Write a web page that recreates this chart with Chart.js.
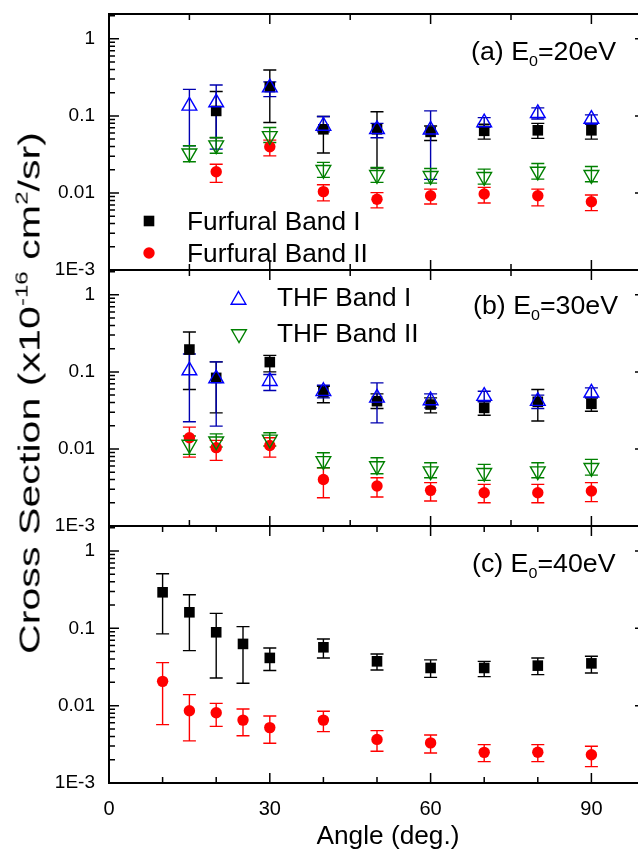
<!DOCTYPE html>
<html>
<head>
<meta charset="utf-8">
<script src="https://cdn.jsdelivr.net/npm/chart.js@4.4.1/dist/chart.umd.min.js"></script>
<style>
html,body{margin:0;padding:0;background:#fff;overflow:hidden;}
#wrap{position:relative;width:638px;height:852px;overflow:hidden;background:#fff;}
#wrap canvas{position:absolute;left:0;top:0;}
.txt{position:absolute;font-family:"Liberation Sans",Arial,Helvetica,sans-serif;color:#000;white-space:nowrap;line-height:1;}
.ann{font-size:25px;transform-origin:0 50%;transform:scaleX(1.07);}
.ann sub{font-size:15px;vertical-align:-6px;line-height:0;}
#ytitle{font-size:29px;left:30px;top:393px;transform:translate(-50%,-50%) rotate(-90deg) scaleX(1.42);}
#ytitle sup{font-size:17px;vertical-align:12px;line-height:0;}
#xtitle{font-size:25px;left:388px;top:823px;transform:translateX(-50%) scaleX(1.05);}
</style>
</head>
<body>
<div id="wrap">
<canvas id="cA" width="660" height="872" style="top:-20px"></canvas>
<canvas id="cB" width="660" height="852"></canvas>
<canvas id="cC" width="660" height="852"></canvas>
<div class="txt ann" style="left:471px;top:39px">(a) E<sub>0</sub>=20eV</div>
<div class="txt ann" style="left:473px;top:293px">(b) E<sub>0</sub>=30eV</div>
<div class="txt ann" style="left:472px;top:551px">(c) E<sub>0</sub>=40eV</div>
<div class="txt" id="ytitle">Cross Section (x10<sup>-16</sup> cm<sup>2</sup>/sr)</div>
<div class="txt" id="xtitle">Angle (deg.)</div>
</div>
<script>
// ---------- data ----------
const anglesF_A = [20,30,40,50,60,70,80,90];
const furfI_A    = [0.116,0.237,0.067,0.067,0.062,0.064,0.065,0.065];
const furfI_A_hi = [0.207,0.394,0.098,0.113,0.074,0.078,0.080,0.080];
const furfI_A_lo = [0.052,0.082,0.033,0.021,0.048,0.050,0.051,0.050];
const furfII_A    = [0.0188,0.0397,0.0104,0.0083,0.0092,0.0097,0.0092,0.0077];
const furfII_A_hi = [0.0236,0.0484,0.0128,0.0101,0.0112,0.0118,0.0112,0.0094];
const furfII_A_lo = [0.0137,0.0303,0.0079,0.0064,0.0072,0.0074,0.0068,0.0059];

const anglesT = [15,20,30,40,50,60,70,80,90];
const thfI_A    = [0.135,0.149,0.233,0.074,0.067,0.066,0.082,0.108,0.091];
const thfI_A_hi = [0.221,0.252,0.276,0.098,0.080,0.116,0.095,0.127,0.103];
const thfI_A_lo = [0.041,0.037,0.178,0.062,0.052,0.015,0.071,0.091,0.078];
const thfII_A    = [0.0328,0.0417,0.055,0.0200,0.0172,0.0167,0.0162,0.019,0.0172];
const thfII_A_hi = [0.0409,0.0524,0.0706,0.0249,0.0214,0.0208,0.0204,0.0241,0.022];
const thfII_A_lo = [0.0254,0.0328,0.0451,0.0159,0.0137,0.0134,0.013,0.0151,0.014];

const anglesF_B = [15,20,30,40,50,60,70,80,90];
const furfI_B    = [0.195,0.0836,0.134,0.0546,0.0417,0.0377,0.0341,0.0409,0.0385];
const furfI_B_hi = [0.33,0.135,0.164,0.0652,0.0519,0.046,0.0417,0.059,0.046];
const furfI_B_lo = [0.059,0.0294,0.1,0.0397,0.0335,0.0294,0.0274,0.023,0.0309];
const furfII_B    = [0.014,0.0104,0.0111,0.00402,0.0033,0.0029,0.0027,0.0027,0.00284];
const furfII_B_hi = [0.0192,0.0129,0.014,0.0057,0.00423,0.00365,0.00347,0.00347,0.00365];
const furfII_B_lo = [0.00783,0.0071,0.00783,0.00233,0.00238,0.00211,0.002,0.002,0.00207];
const thfI_B    = [0.104,0.082,0.0757,0.0561,0.046,0.0425,0.0484,0.0417,0.0535];
const thfI_B_hi = [0.171,0.135,0.0923,0.0672,0.072,0.0519,0.0561,0.0499,0.0621];
const thfI_B_lo = [0.0225,0.0198,0.0573,0.046,0.0218,0.0341,0.0409,0.0335,0.046];
const thfII_B    = [0.0114,0.0126,0.0133,0.0070,0.0060,0.00516,0.00491,0.00516,0.0057];
const thfII_B_hi = [0.0147,0.0157,0.0162,0.00891,0.00769,0.00662,0.0063,0.00662,0.00732];
const thfII_B_lo = [0.0085,0.0106,0.0109,0.0057,0.00477,0.00423,0.00391,0.00423,0.00458];

const anglesC = [10,15,20,25,30,40,50,60,70,80,90];
const furfI_C    = [0.292,0.161,0.0888,0.0628,0.0414,0.0568,0.0374,0.0307,0.0307,0.0329,0.0352];
const furfI_C_hi = [0.506,0.271,0.156,0.105,0.0557,0.0728,0.0466,0.039,0.0374,0.0413,0.0435];
const furfI_C_lo = [0.0846,0.0515,0.0228,0.0195,0.0284,0.0413,0.0289,0.0232,0.0237,0.0252,0.0264];
const furfII_C    = [0.0206,0.0086,0.0081,0.0065,0.0052,0.0065,0.00366,0.0033,0.00249,0.0025,0.00232];
const furfII_C_hi = [0.036,0.0139,0.0107,0.00906,0.00735,0.00845,0.00475,0.00418,0.00313,0.00313,0.00298];
const furfII_C_lo = [0.00568,0.0035,0.0054,0.00409,0.00326,0.00461,0.00257,0.00244,0.00189,0.00189,0.00163];

const seriesNames = ['Furfural Band I','Furfural Band II','THF Band I','THF Band II'];
const xTickValues = [0,30,60,90];
const xTickLabels = ['0','30','60','90'];
const xMinorAB = [15,45,75];
const xMinorC = [10,20,40,50,70,80];
const yTickValues = [0.001,0.01,0.1,1];
const yTickLabels = ['1E-3','0.01','0.1','1'];

// ---------- styles ----------
const FONT = '"Liberation Sans", Arial, Helvetica, sans-serif';
const STY = [
  {pointStyle:'rect', radius:7.5, fill:'#000000', stroke:'#000000', bw:0, rot:0, bar:'#000000', order:3},
  {pointStyle:'circle', radius:5.7, fill:'#ff0000', stroke:'#ff0000', bw:0, rot:0, bar:'#ff0000', order:2},
  {pointStyle:'triangle', radius:8.5, fill:'rgba(0,0,0,0)', stroke:'#0000ff', bw:1.4, rot:0, bar:'#0000b0', order:1},
  {pointStyle:'triangle', radius:8.5, fill:'rgba(0,0,0,0)', stroke:'#008000', bw:1.4, rot:180, bar:'#008000', order:0}
];

function mk(k, xs, ys, hi, lo){
  const s = STY[k];
  return {
    label: seriesNames[k],
    data: xs.map((x,i)=>({x:x, y:ys[i]})),
    errHi: hi, errLo: lo, errColor: s.bar,
    pointStyle: s.pointStyle, pointRadius: s.radius, pointHoverRadius: s.radius,
    pointRotation: s.rot, backgroundColor: s.fill, borderColor: s.stroke,
    borderWidth: s.bw, showLine:false, order: s.order, styleIndex:k
  };
}

// ---------- plugins ----------
const errorBars = {
  id:'errorBars',
  beforeDatasetsDraw(chart){
    const {ctx, scales:{x,y}} = chart;
    ctx.save();
    ctx.lineWidth = 1.4;
    const cap = 6.5;
    chart.data.datasets.slice().sort((a,b)=>b.order-a.order).forEach(ds=>{
      ctx.strokeStyle = ds.errColor;
      ds.data.forEach((p,i)=>{
        const px = x.getPixelForValue(p.x);
        const yh = y.getPixelForValue(ds.errHi[i]);
        const yl = y.getPixelForValue(ds.errLo[i]);
        ctx.beginPath();
        ctx.moveTo(px, yh); ctx.lineTo(px, yl);
        ctx.moveTo(px-cap, yh); ctx.lineTo(px+cap, yh);
        ctx.moveTo(px-cap, yl); ctx.lineTo(px+cap, yl);
        ctx.stroke();
      });
    });
    ctx.restore();
  }
};

const frame = {
  id:'frame',
  afterDraw(chart, args, opts){
    const {ctx, chartArea:a, scales:{x,y}} = chart;
    ctx.save();
    ctx.strokeStyle = '#000';
    ctx.lineWidth = 1.5;
    const MAJ = 10, MIN = 6;
    ctx.beginPath();
    for (let e = -3; e <= 0; e++){
      for (let m = 1; m <= 9; m++){
        const v = m*Math.pow(10,e);
        if (v < y.min*0.999 || v > y.max) continue;
        const py = y.getPixelForValue(v);
        const L = (m===1)?MAJ:MIN;
        ctx.moveTo(a.left, py); ctx.lineTo(a.left+L, py);
        ctx.moveTo(a.right, py); ctx.lineTo(a.right-L, py);
      }
    }
    const drawX = (vals, L)=>{
      vals.forEach(v=>{
        const px = x.getPixelForValue(v);
        ctx.moveTo(px, a.top); ctx.lineTo(px, a.top+L);
        ctx.moveTo(px, a.bottom); ctx.lineTo(px, a.bottom-L);
      });
    };
    drawX(xTickValues, MAJ);
    drawX(opts.minorX || [], MIN);
    ctx.stroke();
    ctx.lineWidth = 2;
    ctx.strokeRect(a.left, a.top, a.right-a.left, a.bottom-a.top);
    ctx.restore();
  }
};

const innerLegend = {
  id:'innerLegend',
  afterDatasetsDraw(chart, args, opts){
    const items = opts.items || [];
    const ctx = chart.ctx;
    const dy = opts.dy || 0;
    items.forEach(it=>{
      const ds = chart.data.datasets[it.ds];
      const s = STY[ds.styleIndex];
      ctx.save();
      ctx.fillStyle = s.fill; ctx.strokeStyle = s.stroke; ctx.lineWidth = s.bw;
      Chart.helpers.drawPoint(ctx, {pointStyle:s.pointStyle, radius:s.radius, rotation:s.rot, borderWidth:s.bw}, it.mx, it.my + dy);
      ctx.restore();
      ctx.save();
      ctx.fillStyle = '#000';
      ctx.font = opts.size + 'px ' + FONT;
      ctx.textBaseline = 'alphabetic';
      ctx.translate(it.tx, it.ty + dy + 0.358*opts.size);
      ctx.scale(opts.sx, 1);
      ctx.fillText(ds.label, 0, 0);
      ctx.restore();
    });
  }
};

// canvasTop: page offset of the canvas (so chart areas line up on the page)
function makePanel(id, canvasTop, canvasH, datasets, top, bottom, showX, minorX, legendItems){
  const t = top - canvasTop, b = bottom - canvasTop;
  return new Chart(document.getElementById(id), {
    type:'scatter',
    data:{datasets},
    plugins:[errorBars, frame, innerLegend],
    options:{
      responsive:false, animation:false, devicePixelRatio:1,
      layout:{padding:{top:t, left:0, right:15, bottom: showX ? 0 : canvasH-b}},
      plugins:{
        legend:{display:false}, tooltip:{enabled:false},
        frame:{minorX:minorX},
        innerLegend:{items:legendItems, size:25, sx:1.05, dy:-canvasTop}
      },
      scales:{
        x:{
          type:'linear', min:0, max:100, display:showX,
          afterFit:(s)=>{ s.height = showX ? canvasH-b : 0; },
          afterBuildTicks:(s)=>{ s.ticks = xTickValues.map(v=>({value:v})); },
          ticks:{callback:(v,i)=>xTickLabels[i], color:'#000', font:{family:FONT, size:20}, padding:14, maxRotation:0, autoSkip:false},
          grid:{display:false, drawTicks:false}, border:{display:false}
        },
        y:{
          type:'logarithmic', min:0.001, max:2.1,
          afterFit:(s)=>{ s.width = 109; },
          afterBuildTicks:(s)=>{ s.ticks = yTickValues.map(v=>({value:v})); },
          ticks:{callback:(v,i)=>yTickLabels[i], color:'#000', font:{family:FONT, size:19}, padding:14, autoSkip:false},
          grid:{display:false, drawTicks:false}, border:{display:false}
        }
      }
    }
  });
}

makePanel('cA', -20, 872, [
  mk(0, anglesF_A, furfI_A, furfI_A_hi, furfI_A_lo),
  mk(1, anglesF_A, furfII_A, furfII_A_hi, furfII_A_lo),
  mk(2, anglesT, thfI_A, thfI_A_hi, thfI_A_lo),
  mk(3, anglesT, thfII_A, thfII_A_hi, thfII_A_lo)
], 14, 270, false, xMinorAB, [
  {ds:0, mx:149, my:221, ty:221.5, tx:187},
  {ds:1, mx:149, my:253, ty:253, tx:187}
]);

makePanel('cB', 0, 852, [
  mk(0, anglesF_B, furfI_B, furfI_B_hi, furfI_B_lo),
  mk(1, anglesF_B, furfII_B, furfII_B_hi, furfII_B_lo),
  mk(2, anglesT, thfI_B, thfI_B_hi, thfI_B_lo),
  mk(3, anglesT, thfII_B, thfII_B_hi, thfII_B_lo)
], 270, 526, false, xMinorAB, [
  {ds:2, mx:238.5, my:300, ty:297.5, tx:277},
  {ds:3, mx:239, my:334, ty:333, tx:277}
]);

makePanel('cC', 0, 852, [
  mk(0, anglesC, furfI_C, furfI_C_hi, furfI_C_lo),
  mk(1, anglesC, furfII_C, furfII_C_hi, furfII_C_lo)
], 526, 783, true, xMinorC, []);
</script>
</body>
</html>
